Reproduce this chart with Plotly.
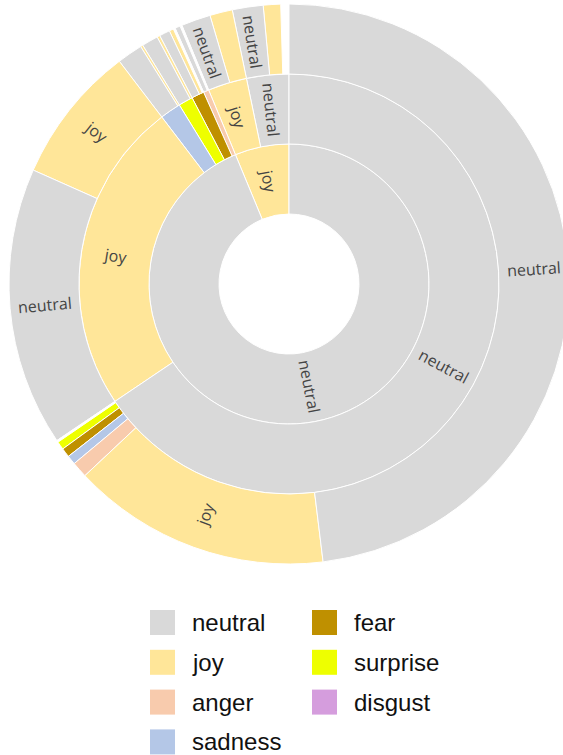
import math
import plotly.graph_objects as go

# ---------------- data ----------------
EMOTIONS = ["neutral", "joy", "anger", "sadness", "fear", "surprise", "disgust"]
EMOTION_COLORS = ["#d9d9d9", "#ffe699", "#f8cbad", "#b4c7e7", "#bf9000", "#eeff00", "#d59ddd"]

TOTAL = 3600

# ring 1 (inner)
L1_LABELS = ["neutral", "joy"]
L1_VALUES = [3375, 225]

# ring 2 (middle)
L2_PARENTS = ["neutral", "neutral", "neutral", "neutral", "neutral", "neutral", "joy", "joy"]
L2_LABELS = ["neutral", "joy", "sadness", "surprise", "fear", "anger", "joy", "neutral"]
L2_VALUES = [2360, 867, 58, 40, 35, 15, 108, 117]

# ring 3 (outer)
L3_PARENTS = (["neutral/neutral"] * 6 + ["neutral/joy"] * 2 + ["neutral/sadness"] * 2
              + ["neutral/surprise"] * 2 + ["neutral/fear"] * 2 + ["neutral/anger"]
              + ["joy/joy"] * 2 + ["joy/neutral"] * 2)
L3_LABELS = ["neutral", "joy", "anger", "sadness", "fear", "surprise",
             "neutral", "joy",
             "neutral", "joy",
             "neutral", "joy",
             "neutral", "joy",
             "neutral",
             "neutral", "joy",
             "neutral", "joy"]
L3_VALUES = [1730, 538, 33, 19, 19, 17,
             580, 287,
             53, 5,
             34, 6,
             22, 9,
             11,
             61, 47,
             64, 36]

LEGEND_COLUMNS = [["neutral", "joy", "anger", "sadness"], ["fear", "surprise", "disgust"]]

# ---------------- hierarchy ----------------
color_of = dict(zip(EMOTIONS, EMOTION_COLORS))
tree = {"root": []}
info = {"root": ("all", TOTAL)}
for lab, val in zip(L1_LABELS, L1_VALUES):
    tree["root"].append(lab)
    info[lab] = (lab, val)
    tree[lab] = []
for par, lab, val in zip(L2_PARENTS, L2_LABELS, L2_VALUES):
    nid = f"{par}/{lab}"
    tree[par].append(nid)
    info[nid] = (lab, val)
    tree[nid] = []
for par, lab, val in zip(L3_PARENTS, L3_LABELS, L3_VALUES):
    nid = f"{par}/{lab}"
    tree[par].append(nid)
    info[nid] = (lab, val)
    tree[nid] = []

# empty remainder of a parent sits at the clockwise end
for nid in list(tree):
    kids = tree[nid]
    if kids:
        rest = info[nid][1] - sum(info[k][1] for k in kids)
        if rest > 0:
            gid = nid + "/_rest"
            kids.append(gid)
            info[gid] = (None, rest)
            tree[gid] = []

LABEL_MIN = 60  # slices narrower than this carry no label

ids, labels, parents, values, colors = [], [], [], [], []


def emit(nid, parent):
    lab, val = info[nid]
    ids.append(nid)
    parents.append(parent)
    values.append(val)
    if nid == "root":
        labels.append("all")
        colors.append("white")
    elif lab is None:
        labels.append("rest")
        colors.append("rgba(0,0,0,0)")
    else:
        labels.append(lab)
        colors.append(color_of[lab])
    # plotly lays siblings counterclockwise from 12 o'clock; the reference runs clockwise
    for k in tree[nid][::-1]:
        emit(k, nid)


emit("root", "")

fig = go.Figure(go.Sunburst(
    ids=ids, labels=labels, parents=parents, values=values,
    branchvalues="total", sort=False, rotation=90,
    textinfo="none",
    marker=dict(colors=colors, line=dict(color="white", width=1)),
    leaf=dict(opacity=1),
    hoverinfo="label+value",
))

W, H = 578, 755
ML, MR, MT, MB = 9, 9, 4, 191
PW, PH = W - ML - MR, H - MT - MB
CX, CY = ML + PW / 2, MT + PH / 2
RING = min(PW, PH) / 2 / 4


def px_x(px):
    return (px - ML) / PW


def px_y(py):
    return (H - MB - py) / PH


annotations, shapes = [], []


# radial slice labels, placed at each slice's middle angle
def place(nid, start, depth):
    lab, val = info[nid]
    span = val / TOTAL * 360
    if depth > 0 and lab is not None and val >= LABEL_MIN:
        theta = start + span / 2
        r = RING * (depth + 0.5)
        t = math.radians(theta)
        x = CX + r * math.sin(t)
        y = CY - r * math.cos(t)
        ang = (theta - 90) % 360
        if 90 < ang <= 270:
            ang -= 180
        annotations.append(dict(xref="paper", yref="paper", x=px_x(x), y=px_y(y),
                                text=lab, showarrow=False, textangle=ang,
                                xanchor="center", yanchor="middle",
                                font=dict(family="Open Sans", size=16, color="#444")))
    s = start
    for k in tree[nid]:
        place(k, s, depth + 1)
        s += info[k][1] / TOTAL * 360


place("root", 0.0, 0)

# legend
COL_X = [150, 312]
ROW_Y0, ROW_STEP, BOX = 610, 39.8, 25
for ci, col in enumerate(LEGEND_COLUMNS):
    for ri, name in enumerate(col):
        x0 = COL_X[ci]
        y0 = ROW_Y0 + ri * ROW_STEP
        shapes.append(dict(type="rect", xref="paper", yref="paper",
                           x0=px_x(x0), x1=px_x(x0 + BOX), y0=px_y(y0 + BOX), y1=px_y(y0),
                           fillcolor=color_of[name], line=dict(width=0)))
        annotations.append(dict(xref="paper", yref="paper", x=px_x(x0 + 40), y=px_y(y0 + BOX / 2),
                                text=name, showarrow=False, xanchor="left", yanchor="middle",
                                font=dict(family="Arial", size=24, color="#111")))

fig.update_layout(
    width=W, height=H, autosize=False,
    margin=dict(l=ML, r=MR, t=MT, b=MB, pad=0),
    paper_bgcolor="white", plot_bgcolor="white",
    shapes=shapes, annotations=annotations,
    showlegend=False,
)

fig.write_html("out.html", config={"displayModeBar": False},
               post_script="document.body.style.margin='0';document.body.style.overflow='hidden';")
